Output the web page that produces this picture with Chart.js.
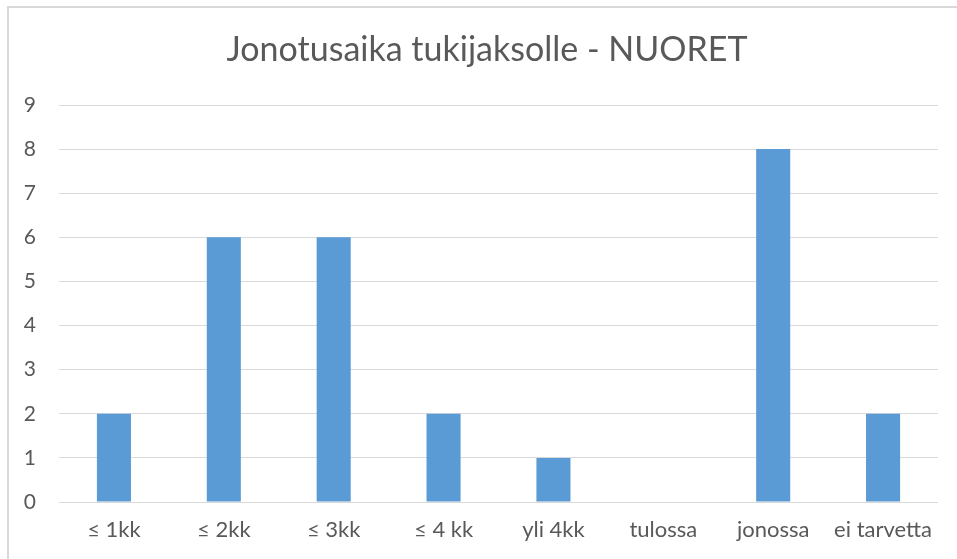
<!DOCTYPE html>
<html>
<head>
<meta charset="utf-8">
<script src="https://cdn.jsdelivr.net/npm/chart.js@4"></script>
<style>
  html, body { margin: 0; padding: 0; background: #fff; }
  #wrap { position: relative; width: 957px; height: 559px; overflow: hidden; }
  #frame { position: absolute; left: 7px; top: 6px; width: 1000px; height: 600px;
           border-left: 2px solid #d9d9d9; border-top: 2px solid #d9d9d9; }
  canvas { position: absolute; left: 0; top: 0; }
</style>
</head>
<body>
<div id="wrap">
  <div id="frame"></div>
  <canvas id="chart" width="957" height="559"></canvas>
</div>
<script>
const categories = ['≤ 1kk', '≤ 2kk', '≤ 3kk', '≤ 4 kk', 'yli 4kk', 'tulossa', 'jonossa', 'ei tarvetta'];
const values = [2, 6, 6, 2, 1, 0, 8, 2];
const yTicks = [0, 1, 2, 3, 4, 5, 6, 7, 8, 9];

const textColor = '#595959';
const fontFamily = 'Lato, "Open Sans", sans-serif';

// centre the title on the frame rather than on the canvas minus padding
const shiftTitle = {
    id: 'shiftTitle',
    afterLayout(chart) {
        const t = chart.titleBlock;
        if (t) { t.left = 36; t.right = 938; }
    }
};

new Chart(document.getElementById('chart'), {
    type: 'bar',
    data: {
        labels: categories,
        datasets: [{
            data: values,
            backgroundColor: '#5B9BD5',
            categoryPercentage: 1,
            barPercentage: 0.31
        }]
    },
    plugins: [shiftTitle],
    options: {
        responsive: false,
        animation: false,
        layout: { padding: { left: 0, right: 19, top: 0, bottom: 1 } },
        plugins: {
            legend: { display: false },
            tooltip: { enabled: false },
            title: {
                display: true,
                text: 'Jonotusaika tukijaksolle - NUORET',
                color: textColor,
                font: { family: fontFamily, size: 34, weight: 'normal' },
                padding: { top: 29.6, bottom: 34.6 }
            }
        },
        scales: {
            x: {
                grid: { display: false, drawTicks: false },
                border: { display: false },
                ticks: { color: textColor, font: { family: fontFamily, size: 22 }, padding: 14.8, maxRotation: 0 }
            },
            y: {
                min: 0,
                max: yTicks[yTicks.length - 1],
                afterBuildTicks: scale => { scale.ticks = yTicks.map(v => ({ value: v })); },
                afterFit: scale => { scale.width = 59; },
                grid: { color: '#d9d9d9', lineWidth: 1, drawTicks: false },
                border: { display: false },
                ticks: { color: textColor, font: { family: fontFamily, size: 21 }, padding: 23 }
            }
        }
    }
});
</script>
</body>
</html>
